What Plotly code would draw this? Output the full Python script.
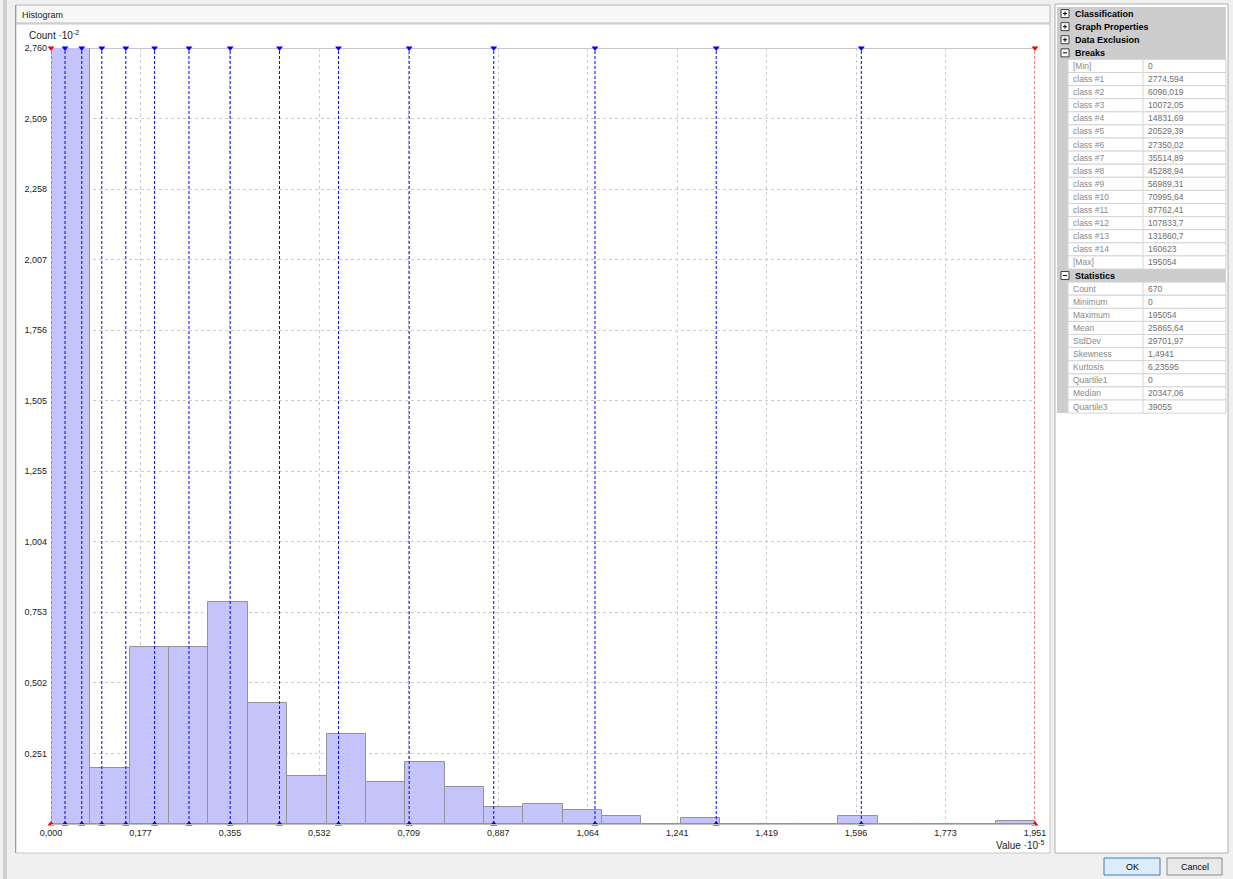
import plotly.graph_objects as go

# ---------------- data ----------------
x_max = 195054.0
n_bins = 25
counts = [276, 20, 63, 63, 79, 43, 17, 32, 15, 22, 13, 6, 7, 5, 3,
          0, 2, 0, 0, 0, 3, 0, 0, 0, 1]
breaks = [2774.594, 6096.019, 10072.05, 14831.69, 20529.39, 27350.02,
          35514.89, 45288.94, 56989.31, 70995.64, 87762.41, 107833.7,
          131860.7, 160623]
x_tick_labels = ["0,000", "0,177", "0,355", "0,532", "0,709", "0,887",
                 "1,064", "1,241", "1,419", "1,596", "1,773", "1,951"]
y_tick_labels = ["0,251", "0,502", "0,753", "1,004", "1,255",
                 "1,505", "1,756", "2,007", "2,258", "2,509", "2,760"]
y_max = 276

break_rows = [("[Min]", "0"), ("class #1", "2774,594"), ("class #2", "6096,019"),
              ("class #3", "10072,05"), ("class #4", "14831,69"), ("class #5", "20529,39"),
              ("class #6", "27350,02"), ("class #7", "35514,89"), ("class #8", "45288,94"),
              ("class #9", "56989,31"), ("class #10", "70995,64"), ("class #11", "87762,41"),
              ("class #12", "107833,7"), ("class #13", "131860,7"), ("class #14", "160623"),
              ("[Max]", "195054")]
stat_rows = [("Count", "670"), ("Minimum", "0"), ("Maximum", "195054"),
             ("Mean", "25865,64"), ("StdDev", "29701,97"), ("Skewness", "1,4941"),
             ("Kurtosis", "6,23595"), ("Quartile1", "0"), ("Median", "20347,06"),
             ("Quartile3", "39055")]
collapsed_sections = ["Classification", "Graph Properties", "Data Exclusion"]

# ---------------- helpers ----------------
W, H = 1233, 879
FONT = "Liberation Sans"


def px(x):
    return x / W


def py(y):
    return 1 - y / H


shapes = []
annots = []


def rect(x0, y0, x1, y1, fill=None, line=None, lw=1, layer="below"):
    shapes.append(dict(type="rect", xref="paper", yref="paper",
                       x0=px(x0), x1=px(x1), y0=py(y1), y1=py(y0),
                       fillcolor=fill if fill else "rgba(0,0,0,0)",
                       line=dict(color=line if line else "rgba(0,0,0,0)", width=lw if line else 0),
                       layer=layer))


def hline(x0, x1, y, color, lw=1, layer="above"):
    shapes.append(dict(type="line", xref="paper", yref="paper",
                       x0=px(x0), x1=px(x1), y0=py(y), y1=py(y),
                       line=dict(color=color, width=lw), layer=layer))


def vline(x, y0, y1, color, lw=1, layer="above"):
    shapes.append(dict(type="line", xref="paper", yref="paper",
                       x0=px(x), x1=px(x), y0=py(y0), y1=py(y1),
                       line=dict(color=color, width=lw), layer=layer))


def text(x, y, s, size=9, color="#222", anchor="left", bold=False):
    annots.append(dict(xref="paper", yref="paper", x=px(x), y=py(y), text=("<b>%s</b>" % s) if bold else s,
                       showarrow=False, xanchor=anchor, yanchor="middle",
                       font=dict(family=FONT, size=size, color=color)))


# ---------------- window chrome ----------------
rect(3, 0, 7, H, fill="#cfcfcf")
rect(16, 5, 1050, 23, fill="#f7f7f7", line="#b8b8b8")
text(20, 15, "Histogram", size=9, color="#222")
rect(16, 24, 1050, 853, fill="#ffffff", line="#c8c8c8")
vline(15.5, 5, 853, "#9a9a9a", layer="below")

text(27, 35, "Count ·10<sup>-2</sup>", size=10, color="#222")
text(1046, 845, "Value ·10<sup>-5</sup>", size=10, color="#222", anchor="right")

# ---------------- property grid ----------------
gx0, gx1, gmid, glab = 1057, 1226, 1143, 1068
rect(1055, 4, 1228, 853, fill="#ffffff", line="#b0b0b0")
row_h = 13.1
y_start = 7
rows = []
for name in collapsed_sections:
    rows.append(("hdr+", name, None))
rows.append(("hdr-", "Breaks", None))
for lab, val in break_rows:
    rows.append(("row", lab, val))
rows.append(("hdr-", "Statistics", None))
for lab, val in stat_rows:
    rows.append(("row", lab, val))

rect(gx0, y_start, gx1, y_start + row_h * len(rows), fill="#cdcdcd")
for i, (kind, lab, val) in enumerate(rows):
    top = y_start + i * row_h
    bot = top + row_h
    cy = (top + bot) / 2
    if kind.startswith("hdr"):
        rect(1061, cy - 4, 1069, cy + 4, fill="#ffffff", line="#404040")
        hline(1063, 1067, cy, "#000000")
        if kind == "hdr+":
            vline(1065, cy - 2, cy + 2, "#000000")
        text(1073, cy, lab, size=9, color="#000", bold=True)
    else:
        rect(glab, top, gx1, bot, fill="#ffffff", line="#d4d4d4", layer="below")
        vline(gmid, top, bot, "#d4d4d4", layer="below")
        text(glab + 3, cy, lab, size=8.5, color="#8a8a8a")
        text(gmid + 3, cy, val, size=8.5, color="#6e6e6e")

# buttons
rect(1104, 858, 1160, 875, fill="#dcecfc", line="#3c7fb1")
text(1132, 866.5, "OK", size=9, color="#000", anchor="center")
rect(1167, 858, 1222, 875, fill="#e9e9e9", line="#8a8a8a")
text(1194.5, 866.5, "Cancel", size=9, color="#000", anchor="center")

# ---------------- histogram ----------------
bw = x_max / n_bins
centers = [(i + 0.5) * bw for i in range(n_bins)]
x_tickvals = [i * x_max / 11 for i in range(12)]
y_tickvals = [float(t.replace(",", ".")) * 100 for t in y_tick_labels]

fig = go.Figure()
fig.add_trace(go.Bar(x=centers, y=counts, width=[bw] * n_bins,
                     marker=dict(color="#c4c4fa", line=dict(color="#929299", width=1)),
                     hoverinfo="skip", showlegend=False))

for b in breaks:
    shapes.append(dict(type="line", xref="x", yref="y", x0=b, x1=b, y0=0, y1=y_max,
                       line=dict(color="#0000ff", width=1, dash="3px,2px"), layer="above"))
for b in [0, x_max]:
    shapes.append(dict(type="line", xref="x", yref="y", x0=b, x1=b, y0=0, y1=y_max,
                       line=dict(color="#ff0000", width=1, dash="3px,2px"), layer="above"))
shapes.append(dict(type="line", xref="x", yref="y", x0=0, x1=x_max, y0=y_max, y1=y_max,
                   line=dict(color="#c8c8c8", width=2), layer="below"))

fig.add_trace(go.Scatter(x=breaks, y=[y_max] * len(breaks), mode="markers",
                         marker=dict(symbol="triangle-down", size=6, color="#0000ff"),
                         cliponaxis=False, hoverinfo="skip", showlegend=False))
fig.add_trace(go.Scatter(x=breaks, y=[0] * len(breaks), mode="markers",
                         marker=dict(symbol="triangle-up", size=6, color="#0000ff"),
                         cliponaxis=False, hoverinfo="skip", showlegend=False))
fig.add_trace(go.Scatter(x=[0, x_max], y=[y_max, y_max], mode="markers",
                         marker=dict(symbol="triangle-down", size=6, color="#ff0000"),
                         cliponaxis=False, hoverinfo="skip", showlegend=False))
fig.add_trace(go.Scatter(x=[0, x_max], y=[0, 0], mode="markers",
                         marker=dict(symbol="triangle-up", size=6, color="#ff0000"),
                         cliponaxis=False, hoverinfo="skip", showlegend=False))

fig.update_layout(
    width=W, height=H, margin=dict(l=0, r=0, t=0, b=0, pad=0, autoexpand=False),
    autosize=False,
    paper_bgcolor="#f0f0f0", plot_bgcolor="#f5f5f5",
    bargap=0, showlegend=False,
    shapes=shapes, annotations=annots,
    xaxis=dict(domain=[px(51), px(1035)], range=[0, x_max], tickvals=x_tickvals,
               ticktext=x_tick_labels, showgrid=True, gridcolor="#cccccc", griddash="dot",
               gridwidth=1, zeroline=False, showline=True, linecolor="#c0c0c0", linewidth=1,
               ticks="", automargin=False,
               tickfont=dict(family=FONT, size=9, color="#222"), fixedrange=True),
    yaxis=dict(domain=[py(824), py(48)], range=[0, y_max], tickvals=y_tickvals,
               ticktext=y_tick_labels, showgrid=True, gridcolor="#cccccc", griddash="dot",
               gridwidth=1, zeroline=False, showline=False, automargin=False,
               ticks="", ticklabelstandoff=3,
               tickfont=dict(family=FONT, size=9, color="#222"), fixedrange=True),
)

fig.write_html("out.html", config={"displayModeBar": False},
               post_script="document.body.style.margin='0';document.body.style.overflow='hidden';")
